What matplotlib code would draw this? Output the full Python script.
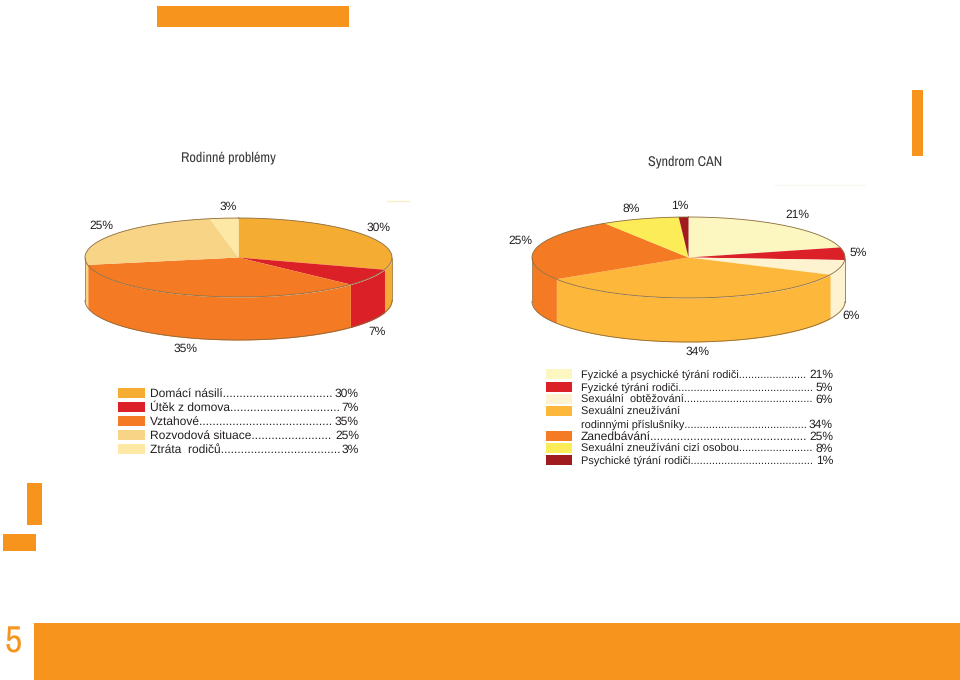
import numpy as np
import matplotlib
matplotlib.use('Agg')
import matplotlib.pyplot as plt
from matplotlib.patches import Rectangle

plt.rcParams['font.family'] = ['Liberation Sans', 'DejaVu Sans']
plt.rcParams['text.hinting'] = 'no_hinting'
plt.rcParams['text.hinting_factor'] = 1

W = 960
H = 680
ORANGE = '#F7941E'
TEXT = '#231F20'

#left chart
family_names = ['Domácí násilí', 'Útěk z domova', 'Vztahové', 'Rozvodová situace', 'Ztráta  rodičů']
family_values = [30, 7, 35, 25, 3]
family_colors = ['#F4AC33', '#DB2127', '#F47A23', '#F8D586', '#FDE9A5']

#right chart
can_names = ['Fyzické a psychické týrání rodiči', 'Fyzické týrání rodiči', 'Sexuální  obtěžování',
             'rodinnými příslušníky', 'Zanedbávání', 'Sexuální zneužívání cizí osobou', 'Psychické týrání rodiči']
can_values = [21, 5, 6, 34, 25, 8, 1]
can_colors = ['#FCF6C0', '#DB2127', '#FDF3D0', '#FDB73A', '#F47A23', '#FCEC57', '#A01A1E']

fig = plt.figure(figsize = (9.6, 6.8), dpi = 100)
bg = fig.add_axes([0, 0, 1, 1])
bg.set_xlim(0, W)
bg.set_ylim(H, 0)
bg.axis('off')

#draw a flat pie with a rim, the box is in pixels
def draw_pie(values, colors, left, right, top, mid, bottom):
    ax = fig.add_axes([left / W, 1 - bottom / H, (right - left) / W, (bottom - top) / H])
    ax.pie(values, colors = colors, startangle = 90, counterclock = False, wedgeprops = {'linewidth': 0})
    ax.set_aspect('auto')
    depth = (bottom - mid) / ((mid - top) / 2)
    ax.set_xlim(-1, 1)
    ax.set_ylim(-1 - depth, 1)
    ax.axis('off')

    #rim: only the front half of the circle is visible
    edges = np.cumsum([0] + values) * 3.6
    for i in range(len(values)):
        start = max(edges[i], 90)
        end = min(edges[i + 1], 270)
        if start >= end:
            continue
        t = np.radians(np.linspace(start, end, 60))
        ax.fill_between(np.sin(t), np.cos(t), np.cos(t) - depth, color = colors[i], linewidth = 0)

    t = np.radians(np.linspace(0, 360, 300))
    ax.plot(np.sin(t), np.cos(t), color = '#8C6A3A', lw = 0.6, clip_on = False)
    t = np.radians(np.linspace(90, 270, 150))
    ax.plot(np.sin(t), np.cos(t) - depth, color = '#8C6A3A', lw = 0.6, clip_on = False)
    ax.plot([1, 1], [0, -depth], color = '#8C6A3A', lw = 0.5, clip_on = False)
    ax.plot([-1, -1], [0, -depth], color = '#8C6A3A', lw = 0.5, clip_on = False)

#one legend row, dots are added until they reach the percent text
def leader_row(name, value, x0, x1, y, size = 8.3):
    r = fig.canvas.get_renderer()
    v = bg.text(x1, y + 0.5, str(value) + '%', fontsize = 8.6, color = TEXT, va = 'center', ha = 'right')
    room = x1 - x0 - v.get_window_extent(r).width
    s = name
    t = bg.text(x0, y + 0.5, s, fontsize = size, color = TEXT, va = 'center', ha = 'left')
    while t.get_window_extent(r).width < room - 4:
        s += '.'
        t.set_text(s)

draw_pie(family_values, family_colors, 85, 392, 218, 297, 340)
draw_pie(can_values, can_colors, 532, 845, 217, 298, 342)

#percent labels around the pies
family_label_pos = [(379, 228), (377, 332), (186, 349), (101, 226), (228, 207)]
can_label_pos = [(797, 215), (858, 253), (851, 316), (698, 352), (520, 241), (631, 209), (680, 206)]
for v, p in zip(family_values, family_label_pos):
    bg.text(p[0], p[1], str(v) + '%', fontsize = 8.3, color = TEXT, ha = 'center', va = 'center')
for v, p in zip(can_values, can_label_pos):
    bg.text(p[0], p[1], str(v) + '%', fontsize = 8.3, color = TEXT, ha = 'center', va = 'center')

#titles
narrow = ['Archivo Narrow', 'Roboto', 'Liberation Sans']
bg.text(228, 158, 'Rodinné problémy', fontsize = 10.2, color = '#3A3A3A', ha = 'center', va = 'center', family = narrow)
bg.text(685, 162, 'Syndrom CAN', fontsize = 10.2, color = '#3A3A3A', ha = 'center', va = 'center', family = narrow)

#left legend
family_rows = [393, 407, 421, 435, 449]
for i in range(5):
    bg.add_patch(Rectangle((118, family_rows[i] - 5), 27, 10, color = family_colors[i], lw = 0))
    leader_row(family_names[i], family_values[i], 150, 359, family_rows[i])

#right legend, the fourth item has two lines
can_rows = [374, 387, 399, 424, 436, 448, 460]
can_swatch = [374, 387, 399, 411, 436, 448, 460]
can_sizes = [7.8, 7.9, 8.0, 8.0, 8.6, 7.9, 8.0]
for i in range(7):
    bg.add_patch(Rectangle((546, can_swatch[i] - 5), 26, 10, color = can_colors[i], lw = 0))
    leader_row(can_names[i], can_values[i], 581, 833, can_rows[i], can_sizes[i])
bg.text(581, 411.5, 'Sexuální zneužívání', fontsize = 8.0, color = TEXT, va = 'center')

#page decoration
bg.add_patch(Rectangle((157, 6), 192, 21, color = ORANGE, lw = 0))
bg.add_patch(Rectangle((912, 90), 11, 66, color = ORANGE, lw = 0))
bg.add_patch(Rectangle((27, 483), 15, 42, color = ORANGE, lw = 0))
bg.add_patch(Rectangle((3, 534), 33, 17, color = ORANGE, lw = 0))
bg.add_patch(Rectangle((34, 623), 926, 57, color = ORANGE, lw = 0))
bg.plot([387, 409], [201, 201], color = '#FBEFC8', lw = 1)
bg.plot([775, 865], [185, 185], color = '#F6F6F2', lw = 1)
bg.text(13, 642, '5', fontsize = 27, color = ORANGE, ha = 'center', va = 'center', family = narrow)

fig.savefig('out.png', dpi = 100)
